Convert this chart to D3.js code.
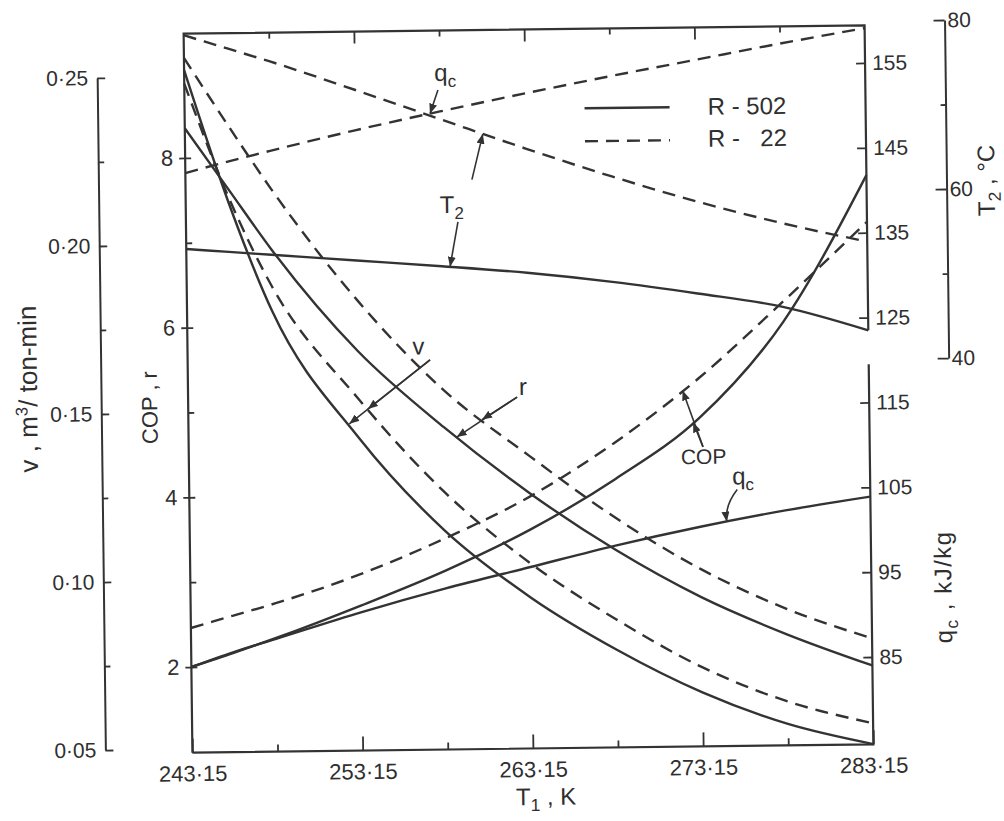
<!DOCTYPE html>
<html><head><meta charset="utf-8">
<script src="https://cdn.jsdelivr.net/npm/d3@7"></script>
<style>
html,body{margin:0;padding:0;background:#fff;}
svg{display:block;}
text{font-family:"Liberation Sans",Arial,sans-serif;fill:#2f2f2f;}
</style></head><body>
<svg id="chart" width="1004" height="821"></svg>
<script>
// Evaporator temperature T1, K
const T1 = [243.15, 245.65, 248.15, 253.15, 258.15, 263.15, 268.15, 273.15, 278.15, 283.15];

// R-502 (solid lines)
const v502   = [0.252, 0.2127, 0.180, 0.1420, 0.1140, 0.0938, 0.0780, 0.0650, 0.0553, 0.049];
const r502   = [8.35, 7.63, 6.91, 5.70, 4.79, 4.00, 3.32, 2.75, 2.30, 1.92];
const cop502 = [2.00, 2.16, 2.33, 2.70, 3.10, 3.57, 4.15, 4.86, 5.98, 7.70];
const qc502  = [84.8, 86.5, 88.0, 91.0, 93.7, 96.1, 98.5, 100.6, 102.4, 103.9];
const t2_502 = [54.0, 53.6, 53.2, 52.4, 51.6, 50.7, 49.5, 48.0, 46.3, 43.4];

// R-22 (dashed lines)
const v22   = [0.248, 0.2143, 0.1874, 0.1536, 0.1255, 0.1040, 0.0870, 0.0725, 0.0620, 0.0552];
const r22   = [9.18, 8.39, 7.63, 6.30, 5.23, 4.44, 3.70, 3.08, 2.60, 2.24];
const cop22 = [2.46, 2.60, 2.74, 3.07, 3.48, 3.96, 4.58, 5.33, 6.22, 7.15];
const qc22  = [143.0, 144.3, 145.5, 147.8, 149.9, 151.9, 153.8, 155.6, 157.4, 159.1];
const t2_22 = [79.3, 77.7, 76.1, 72.6, 69.0, 65.4, 62.0, 58.9, 56.2, 53.9];

// Tick values
const xTicks = [243.15, 253.15, 263.15, 273.15, 283.15];
const xMinorTicks = [248.15, 258.15, 268.15, 278.15];
const vTicks = [0.05, 0.10, 0.15, 0.20, 0.25];
const vMinorTicks = [0.075, 0.125, 0.175, 0.225];
const copTicks = [2, 4, 6, 8];
const copMinorTicks = [3, 5, 7];
const qTicks = [85, 95, 105, 115, 125, 135, 145, 155];
const t2Ticks = [40, 60, 80];
const t2MinorTicks = [50, 70];

// T1 positions where the leader arrows touch the curves
const tipQcTop = 257.56, tipT2Dash = 260.65, tipT2Solid = 258.63;
const tipVSolid = 252.6, tipVDash = 253.7;
const tipRSolid = 258.9, tipRDash = 260.4;
const tipCopDash = 272.2, tipCopSolid = 272.8;
const tipQcLow = 274.7;

const INK = '#333';
const svg = d3.select('#chart');
svg.append('rect').attr('width', 1004).attr('height', 821).attr('fill', '#fff');

const defs = svg.append('defs');
defs.append('marker').attr('id', 'arw')
  .attr('viewBox', '0 0 10 8').attr('refX', 10).attr('refY', 4)
  .attr('markerWidth', 10).attr('markerHeight', 8)
  .attr('markerUnits', 'userSpaceOnUse').attr('orient', 'auto')
  .append('path').attr('d', 'M0,0L10,4L0,8Z').attr('fill', INK);

// the whole sheet sits slightly tilted
const g = svg.append('g').attr('transform', 'rotate(-0.7 528 389)');

const plot = {left: 188, right: 869, top: 29.5, bottom: 748.5};
const x = d3.scaleLinear().domain([243.15, 283.15]).range([plot.left, plot.right]);
const yCop = d3.scaleLinear().domain([2, 8]).range([662.9, 153.8]);
const yV = d3.scaleLinear().domain([0.05, 0.25]).range([744.9, 72.7]);
const yQ = d3.scaleLinear().domain([85, 155]).range([661.2, 67.1]);
const yT = d3.scaleLinear().domain([40, 80]).range([363.2, 25.1]);

const fmt2 = d => d.toFixed(2).replace('.', '·');

function at(arr, t) {
  let i = d3.bisectRight(T1, t) - 1;
  i = Math.max(0, Math.min(T1.length - 2, i));
  const f = (t - T1[i]) / (T1[i + 1] - T1[i]);
  return arr[i] + f * (arr[i + 1] - arr[i]);
}

function styleAxis(sel, size) {
  sel.selectAll('line').attr('stroke', INK).attr('stroke-width', 1.8);
  sel.selectAll('path.domain').attr('stroke', INK).attr('stroke-width', 2);
  sel.selectAll('text').attr('font-size', size).attr('fill', '#2f2f2f')
    .attr('font-family', '"Liberation Sans",Arial,sans-serif');
}

// frame (right side broken between the two q_c ranges)
g.append('path')
  .attr('d', `M${plot.left},${plot.bottom}V${plot.top}H${plot.right}V${yQ(123.5)}` +
             `M${plot.right},${yQ(119.5)}V${plot.bottom}H${plot.left}`)
  .attr('fill', 'none').attr('stroke', INK).attr('stroke-width', 2.2);

// bottom T1 axis
const xb = g.append('g').attr('transform', `translate(0,${plot.bottom})`)
  .call(d3.axisBottom(x).tickValues(xTicks).tickSizeInner(-14).tickSizeOuter(0).tickPadding(13).tickFormat(fmt2));
xb.select('.domain').remove(); styleAxis(xb, 22);
const xbm = g.append('g').attr('transform', `translate(0,${plot.bottom})`)
  .call(d3.axisBottom(x).tickValues(xMinorTicks).tickSize(-7).tickFormat(''));
xbm.select('.domain').remove(); styleAxis(xbm, 1);
// top edge ticks
const xt = g.append('g').attr('transform', `translate(0,${plot.top})`)
  .call(d3.axisTop(x).tickValues(xTicks.slice(1, -1)).tickSize(-12).tickFormat(''));
xt.select('.domain').remove(); styleAxis(xt, 1);
const xtm = g.append('g').attr('transform', `translate(0,${plot.top})`)
  .call(d3.axisTop(x).tickValues(xMinorTicks).tickSize(-6).tickFormat(''));
xtm.select('.domain').remove(); styleAxis(xtm, 1);

// v axis (outer left)
const vAx = g.append('g').attr('transform', 'translate(101,0)')
  .call(d3.axisLeft(yV).tickValues(vTicks).tickSizeInner(-8).tickSizeOuter(0).tickPadding(9).tickFormat(fmt2));
styleAxis(vAx, 21);
const vAxm = g.append('g').attr('transform', 'translate(101,0)')
  .call(d3.axisLeft(yV).tickValues(vMinorTicks).tickSize(-6).tickFormat(''));
vAxm.select('.domain').remove(); styleAxis(vAxm, 1);

// COP, r axis (plot left edge)
const cAx = g.append('g').attr('transform', `translate(${plot.left},0)`)
  .call(d3.axisLeft(yCop).tickValues(copTicks).tickSizeInner(6).tickSizeOuter(0).tickPadding(6).tickFormat(d3.format('d')));
cAx.select('.domain').remove(); styleAxis(cAx, 22);
const cAxm = g.append('g').attr('transform', `translate(${plot.left},0)`)
  .call(d3.axisLeft(yCop).tickValues(copTicks.concat(copMinorTicks)).tickSize(-6).tickFormat(''));
cAxm.select('.domain').remove(); styleAxis(cAxm, 1);

// q_c axis (plot right edge)
const qAx = g.append('g').attr('transform', `translate(${plot.right},0)`)
  .call(d3.axisRight(yQ).tickValues(qTicks).tickSizeInner(-9).tickSizeOuter(0).tickPadding(7).tickFormat(d3.format('d')));
qAx.select('.domain').remove(); styleAxis(qAx, 21);

// T2 axis (far right)
const tAx = g.append('g').attr('transform', 'translate(949,0)')
  .call(d3.axisRight(yT).tickValues(t2Ticks).tickSizeInner(-11).tickSizeOuter(0).tickPadding(3).tickFormat(d3.format('d')));
styleAxis(tAx, 21);
const tAxm = g.append('g').attr('transform', 'translate(949,0)')
  .call(d3.axisRight(yT).tickValues(t2MinorTicks).tickSize(-5).tickFormat(''));
tAxm.select('.domain').remove(); styleAxis(tAxm, 1);

// axis titles
function title(tx, ty, rot, parts, size, spacing) {
  const t = g.append('text').attr('transform', `translate(${tx},${ty}) rotate(${rot})`)
    .attr('text-anchor', 'middle').attr('font-size', size).style('white-space', 'pre')
    .attr('letter-spacing', spacing || 0);
  parts.forEach(p => {
    const s = t.append('tspan').text(p.t);
    if (p.sub) s.attr('font-size', size * 0.72).attr('dy', size * 0.25);
    if (p.sup) s.attr('font-size', size * 0.65).attr('dy', -size * 0.38);
    if (p.back) s.attr('dy', p.back);
  });
  return t;
}
title(541, 805, 0, [{t: 'T'}, {t: '1', sub: true}, {t: ' , K', back: -24 * 0.25}], 24);
title(37, 383, -90, [{t: 'v , m'}, {t: '3', sup: true}, {t: '/ ton-min', back: 26 * 0.38}], 26);
title(157, 403, -90, [{t: 'COP , r'}], 22);
title(949, 592, -90, [{t: 'q'}, {t: 'c', sub: true}, {t: ' , kJ/kg', back: -24 * 0.25}], 24, 1.5);
title(997, 186, -90, [{t: 'T'}, {t: '2', sub: true}, {t: ' , °C', back: -24 * 0.25}], 24);

// curves
const line = yS => d3.line().x((d, i) => x(T1[i])).y(d => yS(d)).curve(d3.curveMonotoneX);
const series = [
  {vals: v502, y: yV, dash: null}, {vals: r502, y: yCop, dash: null},
  {vals: cop502, y: yCop, dash: null}, {vals: qc502, y: yQ, dash: null},
  {vals: t2_502, y: yT, dash: null},
  {vals: v22, y: yV, dash: '13,8'}, {vals: r22, y: yCop, dash: '13,8'},
  {vals: cop22, y: yCop, dash: '13,8'}, {vals: qc22, y: yQ, dash: '13,8'},
  {vals: t2_22, y: yT, dash: '13,8'}
];
series.forEach(s => {
  g.append('path').datum(s.vals).attr('d', line(s.y))
    .attr('fill', 'none').attr('stroke', INK).attr('stroke-width', 2.4)
    .attr('stroke-dasharray', s.dash);
});

// legend
g.append('line').attr('x1', 588).attr('x2', 673).attr('y1', 109).attr('y2', 109)
  .attr('stroke', INK).attr('stroke-width', 2.4);
g.append('line').attr('x1', 588).attr('x2', 673).attr('y1', 142).attr('y2', 142)
  .attr('stroke', INK).attr('stroke-width', 2.4).attr('stroke-dasharray', '13,8');
g.append('text').attr('x', 711).attr('y', 117).attr('font-size', 24).text('R - 502');
g.append('text').attr('x', 711).attr('y', 149).attr('font-size', 24).text('R -');
g.append('text').attr('x', 790).attr('y', 149).attr('font-size', 24).attr('text-anchor', 'end').text('22');

// annotations
function lbl(tx, ty, main, sub, size) {
  const t = g.append('text').attr('x', tx).attr('y', ty).attr('font-size', size || 24).text(main);
  if (sub) t.append('tspan').attr('font-size', 17).attr('dy', 6).text(sub);
}
function arrow(x1, y1, x2, y2) {
  g.append('line').attr('x1', x1).attr('y1', y1).attr('x2', x2).attr('y2', y2)
    .attr('stroke', INK).attr('stroke-width', 1.6).attr('marker-end', 'url(#arw)');
}
const pt = (arr, ys, t) => [x(t), ys(at(arr, t))];

lbl(438, 80, 'q', 'c');
let p = pt(qc22, yQ, tipQcTop); arrow(441.6, 89, p[0], p[1]);

lbl(442, 212, 'T', '2');
p = pt(t2_22, yT, tipT2Dash); arrow(474.5, 179, p[0], p[1]);
p = pt(t2_502, yT, tipT2Solid); arrow(460, 221, p[0], p[1]);

lbl(413, 353, 'v');
p = pt(v502, yV, tipVSolid); arrow(430.4, 358.8, p[0], p[1]);
p = pt(v22, yV, tipVDash); arrow(430.4, 358.8, p[0], p[1]);

lbl(519, 395, 'r');
p = pt(r502, yCop, tipRSolid); arrow(517, 397, p[0], p[1]);
p = pt(r22, yCop, tipRDash); arrow(517, 397, p[0], p[1]);

lbl(680, 466, 'COP', null, 21);
p = pt(cop22, yCop, tipCopDash); arrow(702.3, 449, p[0], p[1]);
p = pt(cop502, yCop, tipCopSolid); arrow(702.3, 449, p[0], p[1]);

lbl(731, 487, 'q', 'c');
p = pt(qc502, yQ, tipQcLow);
g.append('path').attr('d', `M736,492Q${p[0] - 2},${(492 + p[1]) / 2} ${p[0]},${p[1]}`)
  .attr('fill', 'none').attr('stroke', INK).attr('stroke-width', 1.6).attr('marker-end', 'url(#arw)');
</script>
</body></html>
